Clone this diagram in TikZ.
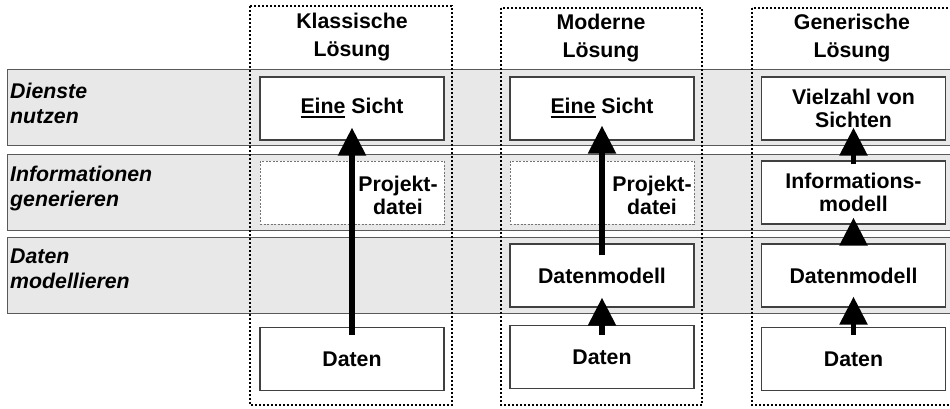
\documentclass[tikz,border=0pt]{standalone}
\usepackage{fontspec}
\setmainfont{Liberation Sans}
\usetikzlibrary{arrows.meta}
\newcommand{\unterstr}[1]{\setbox0\hbox{#1}\rlap{\rule[-4.5pt]{\wd0}{2.5pt}}\box0\relax}
\begin{document}
\begin{tikzpicture}[x=1pt,y=-1pt,
    font=\fontsize{21.3}{23}\selectfont\bfseries,
    band/.style={draw=black!65,fill=black!9,line width=1pt},
    spalte/.style={draw,line width=2pt,dash pattern=on 2pt off 2pt},
    kasten/.style={draw=black!75,fill=white,line width=1.2pt,minimum width=184pt,minimum height=63pt,align=center},
    leer/.style={kasten,draw=black!55,line width=0.8pt,dash pattern=on 2pt off 1.5pt},
    ebene/.style={font=\fontsize{21.3}{25}\selectfont\bfseries\itshape,align=left,anchor=north west,inner sep=0pt},
    titel/.style={align=center,font=\fontsize{21.3}{27.5}\selectfont\bfseries},
    pfeil/.style={line width=5.5pt,-{Triangle[width=27pt,length=28pt]}}]
    \useasboundingbox (0,0) rectangle (950,408);

    % Ebenen
    \draw[band] (7,69) rectangle (953,145);
    \draw[band] (7,154) rectangle (953,230);
    \draw[band] (7,237) rectangle (953,313);
    \node[ebene] (dienste) at (10,82.5) {Dienste\\nutzen};
    \node[ebene] (informationen) at (10,165.5) {Informationen\\generieren};
    \node[ebene] (datenebene) at (10,248.5) {Daten\\modellieren};

    % Spalten
    \draw[spalte] (250,6) rectangle (452,405);
    \draw[spalte] (501,8) rectangle (702,405);
    \draw[spalte] (752,8) rectangle (953,405);
    \node[titel] (klassisch) at (352,37) {Klassische\\Lösung};
    \node[titel] (modern) at (601,38) {Moderne\\Lösung};
    \node[titel] (generisch) at (852,38) {Generische\\Lösung};

    % Klassische Loesung
    \node[kasten] (sicht1) at (352,108.5) {\unterstr{Eine} Sicht};
    \node[leer] (leer1) at (352,192.5) {};
    \node[align=center] (projekt1) at (398,195) {Projekt-\\datei};
    \node[kasten] (daten1) at (352,359) {Daten};

    % Moderne Loesung
    \node[kasten] (sicht2) at (602,108.5) {\unterstr{Eine} Sicht};
    \node[leer] (leer2) at (602,192.5) {};
    \node[align=center] (projekt2) at (652,195) {Projekt-\\datei};
    \node[kasten] (dmodell2) at (602,275.5) {Datenmodell};
    \node[kasten] (daten2) at (602,357) {Daten};

    % Generische Loesung
    \node[kasten] (sichten3) at (853.5,108.5) {Vielzahl von\\Sichten};
    \node[kasten] (imodell3) at (853.5,192.5) {Informations-\\modell};
    \node[kasten] (dmodell3) at (853.5,275.5) {Datenmodell};
    \node[kasten] (daten3) at (853.5,359) {Daten};

    \draw[pfeil,shorten <=-8pt,shorten >=-13pt] (daten1) -- (sicht1);
    \draw[pfeil,shorten <=-10pt,shorten >=-10pt] (daten2) -- (dmodell2);
    \draw[pfeil,shorten <=-12pt,shorten >=-15pt] (dmodell2) -- (sicht2);
    \draw[pfeil,shorten <=-8pt,shorten >=-11pt] (daten3) -- (dmodell3);
    \draw[pfeil,shorten <=-10pt,shorten >=-7pt] (dmodell3) -- (imodell3);
    \draw[pfeil,shorten <=-4pt,shorten >=-13pt] (imodell3) -- (sichten3);
\end{tikzpicture}
\end{document}
